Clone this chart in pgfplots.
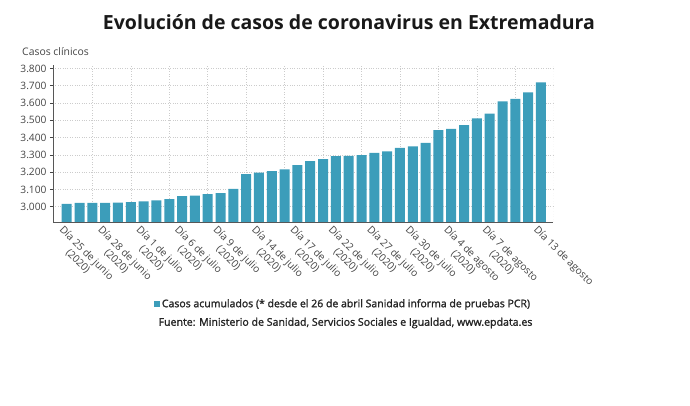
\documentclass[border=0pt]{standalone}
\usepackage{fontspec}
\setmainfont{Open Sans}
\newfontfamily\semib[FakeBold=1.6]{Open Sans}
\usepackage{pgfplots}
\pgfplotsset{compat=1.18}
\usepackage{pgfplotstable}

\definecolor{barcol}{HTML}{3C9DBA}
\definecolor{txt}{HTML}{444444}
\definecolor{gridc}{HTML}{CCCCCC}

% casos acumulados, un valor por dia
\pgfplotstableread{
x y
0 3017
1 3023
2 3023
3 3023
4 3024
5 3027
6 3031
7 3037
8 3044
9 3062
10 3064
11 3073
12 3079
13 3104
14 3189
15 3198
16 3206
17 3216
18 3241
19 3264
20 3276
21 3293
22 3295
23 3299
24 3312
25 3320
26 3341
27 3349
28 3370
29 3443
30 3451
31 3472
32 3511
33 3539
34 3609
35 3624
36 3661
37 3719
}\casos

\begin{document}
\begin{tikzpicture}
\path[use as bounding box] (0,0) rectangle (690bp,406bp);

\node[font=\bfseries\fontsize{19.5bp}{22bp}\selectfont, text=black!90] at (349bp,384bp)
  {Evolución de casos de coronavirus en Extremadura};
\node[anchor=west, font=\fontsize{10.4bp}{12bp}\selectfont, text=txt, inner sep=0pt] at (22bp,354bp)
  {Casos clínicos};

\begin{axis}[
    at={(53bp,184bp)}, anchor=south west,
    scale only axis,
    width=500bp, height=157bp,
    xmin=-1.07, xmax=37.94,
    ymin=2912, ymax=3820,
    axis lines=left,
    axis line style={draw=txt!90, -},
    /pgf/number format/assume math mode=true,
    ticklabel style={font=\fontsize{10.2bp}{12bp}\selectfont, text=txt},
    ytick={3000,3100,...,3800},
    yticklabels={3.000,3.100,3.200,3.300,3.400,3.500,3.600,3.700,3.800},
    ytick style={draw=txt, line width=0.6pt},
    major tick length=3bp,
    tick align=outside,
    ymajorgrids=true,
    grid style={gridc, dotted, line width=0.6pt},
    xtick={0,3,...,33,37},
    xticklabels={
      {Día 25 de junio\\(2020)},
      {Día 28 de junio\\(2020)},
      {Día 1 de julio\\(2020)},
      {Día 6 de julio\\(2020)},
      {Día 9 de julio\\(2020)},
      {Día 14 de julio\\(2020)},
      {Día 17 de julio\\(2020)},
      {Día 22 de julio\\(2020)},
      {Día 27 de julio\\(2020)},
      {Día 30 de julio\\(2020)},
      {Día 4 de agosto\\(2020)},
      {Día 7 de agosto\\(2020)},
      {Día 13 de agosto}},
    xticklabel style={rotate=-45, anchor=north west, align=center, inner sep=1pt, xshift=-3bp},
    xtick style={draw=none},
    minor xtick={2,5,...,35},
    xminorgrids=true,
    minor grid style={gridc, dotted, line width=0.6pt},
    minor tick length=0pt,
    legend style={at={(0.58,-0.522)}, anchor=center, draw=none,
      font=\semib\fontsize{10.5bp}{12bp}\selectfont, text=black!85, inner sep=0pt},
    legend image code/.code={\fill[barcol] (0bp,-3bp) rectangle (6bp,3bp);},
]
\draw[gridc, dotted, line width=0.6pt] (rel axis cs:1,0) -- (rel axis cs:1,1);
\addplot[ybar, bar width=10bp, fill=barcol, draw=none] table[x=x, y=y] {\casos};
\addlegendentry{Casos acumulados (* desde el 26 de abril Sanidad informa de pruebas PCR)}
\end{axis}

\node[font=\semib\fontsize{10.6bp}{12bp}\selectfont, text=black!85] at (345.5bp,83bp)
  {Fuente: Ministerio de Sanidad, Servicios Sociales e Igualdad, www.epdata.es};
\end{tikzpicture}
\end{document}
